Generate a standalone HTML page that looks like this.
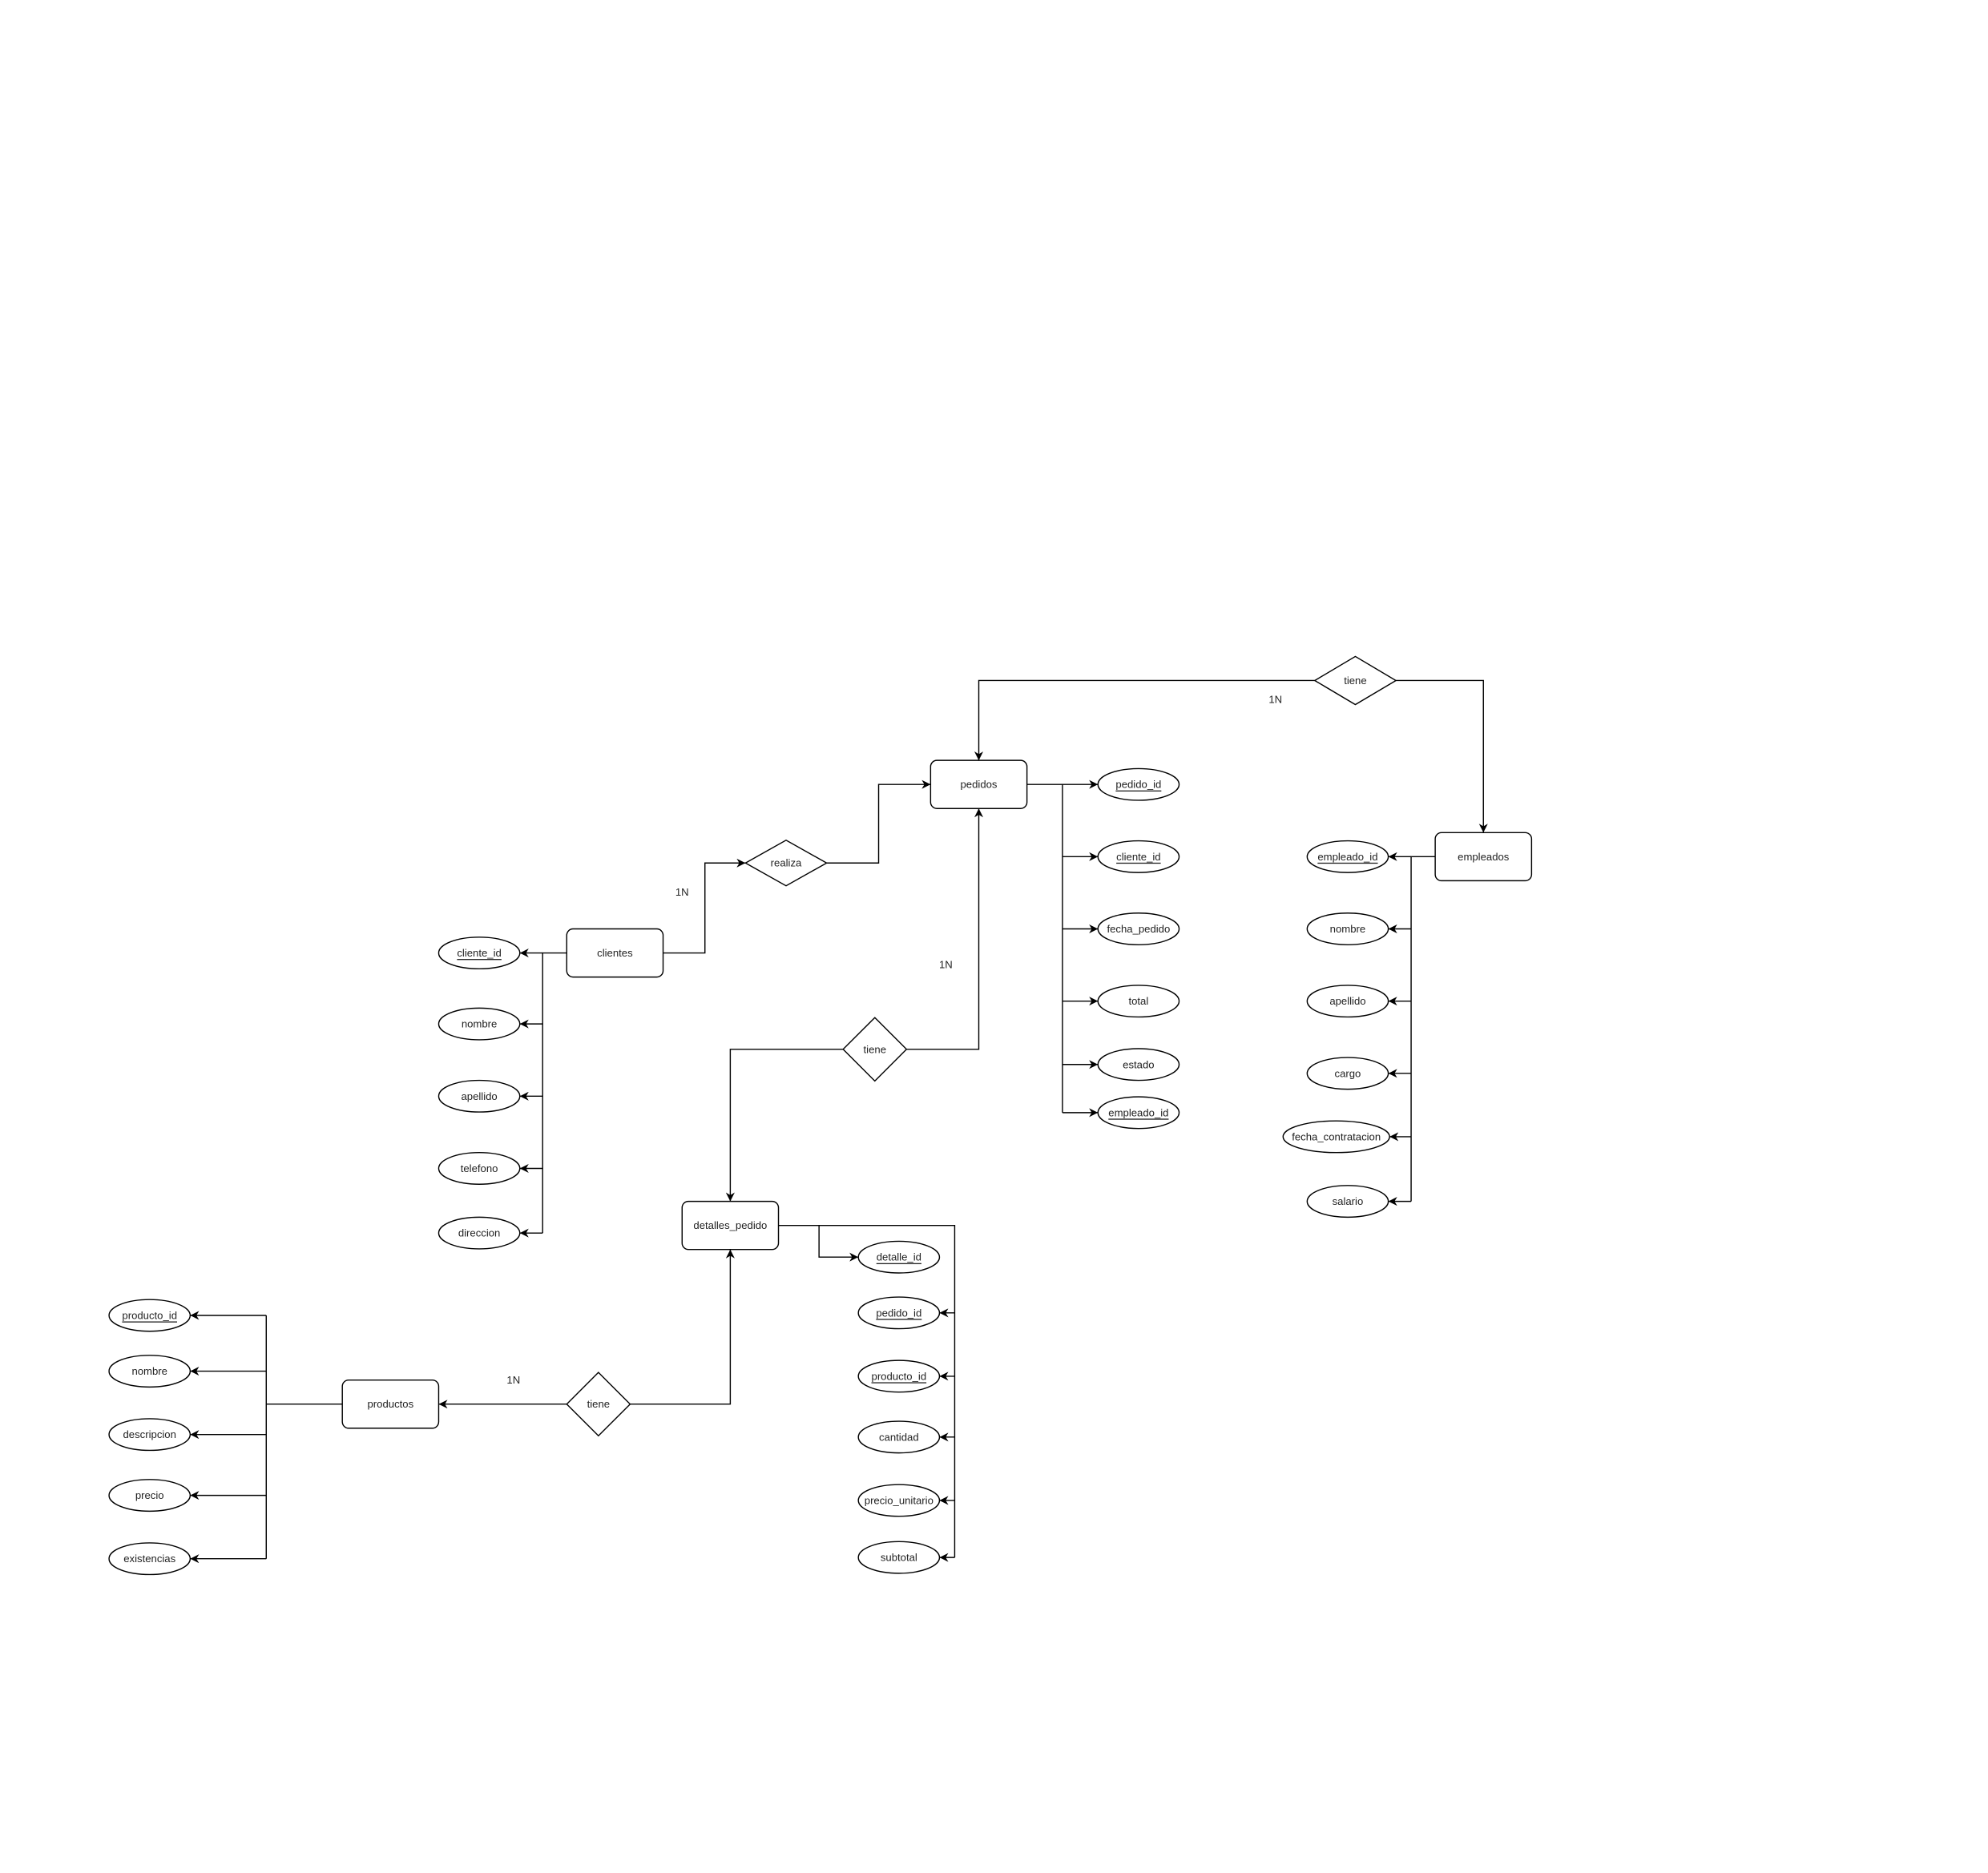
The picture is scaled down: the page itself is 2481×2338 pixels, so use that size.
<!DOCTYPE html>
<html><head><meta charset="utf-8"><style>
html,body{margin:0;padding:0;background:#fff;}
svg{display:block;}
text{font-family:"Liberation Sans",sans-serif;font-size:8.3px;fill:#222;text-anchor:middle;dominant-baseline:central;}
.u{text-decoration:underline;}
</style></head><body>
<svg width="2481" height="2338" viewBox="0 0 1568 1478" preserveAspectRatio="none" xmlns="http://www.w3.org/2000/svg">
<defs>
<marker id="a" viewBox="0 0 10 10" refX="10" refY="5" markerWidth="7" markerHeight="7" orient="auto" markerUnits="userSpaceOnUse">
<path d="M0,0 L10,5 L0,10 L3,5 z" fill="#000"/>
</marker>
</defs>
<g fill="none" stroke="#000" stroke-width="0.9">
<polyline points="1037,537 772,537 772,600" marker-end="url(#a)"/>
<polyline points="1101,537 1170,537 1170,657" marker-end="url(#a)"/>
<polygon points="1037,537 1069,518 1101,537 1069,556" fill="#fff"/>
<polyline points="523,752 556,752 556,681 588,681" marker-end="url(#a)"/>
<polyline points="652,681 693,681 693,619 734,619" marker-end="url(#a)"/>
<polygon points="588,681 620,663 652,681 620,699" fill="#fff"/>
<polyline points="715,828 772,828 772,638" marker-end="url(#a)"/>
<polyline points="665,828 576,828 576,948" marker-end="url(#a)"/>
<polygon points="665,828 690,803 715,828 690,853" fill="#fff"/>
<polyline points="447,1108 346,1108" marker-end="url(#a)"/>
<polyline points="497,1108 576,1108 576,986" marker-end="url(#a)"/>
<polygon points="447,1108 472,1083 497,1108 472,1133" fill="#fff"/>

<polyline points="810,619 838,619 838,878"/>
<line x1="838" y1="619" x2="866" y2="619" marker-end="url(#a)"/>
<line x1="838" y1="676" x2="866" y2="676" marker-end="url(#a)"/>
<line x1="838" y1="733" x2="866" y2="733" marker-end="url(#a)"/>
<line x1="838" y1="790" x2="866" y2="790" marker-end="url(#a)"/>
<line x1="838" y1="840" x2="866" y2="840" marker-end="url(#a)"/>
<line x1="838" y1="878" x2="866" y2="878" marker-end="url(#a)"/>
<polyline points="1132,676 1113,676 1113,948"/>
<line x1="1113" y1="676" x2="1095" y2="676" marker-end="url(#a)"/>
<line x1="1113" y1="733" x2="1095" y2="733" marker-end="url(#a)"/>
<line x1="1113" y1="790" x2="1095" y2="790" marker-end="url(#a)"/>
<line x1="1113" y1="847" x2="1095" y2="847" marker-end="url(#a)"/>
<line x1="1113" y1="897" x2="1096" y2="897" marker-end="url(#a)"/>
<line x1="1113" y1="948" x2="1095" y2="948" marker-end="url(#a)"/>
<polyline points="447,752 428,752 428,973"/>
<line x1="428" y1="752" x2="410" y2="752" marker-end="url(#a)"/>
<line x1="428" y1="808" x2="410" y2="808" marker-end="url(#a)"/>
<line x1="428" y1="865" x2="410" y2="865" marker-end="url(#a)"/>
<line x1="428" y1="922" x2="410" y2="922" marker-end="url(#a)"/>
<line x1="428" y1="973" x2="410" y2="973" marker-end="url(#a)"/>
<polyline points="614,967 753,967 753,1229"/>
<polyline points="646,967 646,992 677,992" marker-end="url(#a)"/>
<line x1="753" y1="1036" x2="741" y2="1036" marker-end="url(#a)"/>
<line x1="753" y1="1086" x2="741" y2="1086" marker-end="url(#a)"/>
<line x1="753" y1="1134" x2="741" y2="1134" marker-end="url(#a)"/>
<line x1="753" y1="1184" x2="741" y2="1184" marker-end="url(#a)"/>
<line x1="753" y1="1229" x2="741" y2="1229" marker-end="url(#a)"/>
<polyline points="270,1108 210,1108"/>
<line x1="210" y1="1038" x2="210" y2="1230"/>
<line x1="210" y1="1038" x2="150" y2="1038" marker-end="url(#a)"/>
<line x1="210" y1="1082" x2="150" y2="1082" marker-end="url(#a)"/>
<line x1="210" y1="1132" x2="150" y2="1132" marker-end="url(#a)"/>
<line x1="210" y1="1180" x2="150" y2="1180" marker-end="url(#a)"/>
<line x1="210" y1="1230" x2="150" y2="1230" marker-end="url(#a)"/>

<rect x="734" y="600" width="76" height="38" rx="5" fill="#fff"/>
<rect x="1132" y="657" width="76" height="38" rx="5" fill="#fff"/>
<rect x="447" y="733" width="76" height="38" rx="5" fill="#fff"/>
<rect x="538" y="948" width="76" height="38" rx="5" fill="#fff"/>
<rect x="270" y="1089" width="76" height="38" rx="5" fill="#fff"/>

<g fill="#fff">
<ellipse cx="898" cy="619" rx="32" ry="12.5"/>
<ellipse cx="898" cy="676" rx="32" ry="12.5"/>
<ellipse cx="898" cy="733" rx="32" ry="12.5"/>
<ellipse cx="898" cy="790" rx="32" ry="12.5"/>
<ellipse cx="898" cy="840" rx="32" ry="12.5"/>
<ellipse cx="898" cy="878" rx="32" ry="12.5"/>
<ellipse cx="1063" cy="676" rx="32" ry="12.5"/>
<ellipse cx="1063" cy="733" rx="32" ry="12.5"/>
<ellipse cx="1063" cy="790" rx="32" ry="12.5"/>
<ellipse cx="1063" cy="847" rx="32" ry="12.5"/>
<ellipse cx="1054" cy="897" rx="42" ry="12.5"/>
<ellipse cx="1063" cy="948" rx="32" ry="12.5"/>
<ellipse cx="378" cy="752" rx="32" ry="12.5"/>
<ellipse cx="378" cy="808" rx="32" ry="12.5"/>
<ellipse cx="378" cy="865" rx="32" ry="12.5"/>
<ellipse cx="378" cy="922" rx="32" ry="12.5"/>
<ellipse cx="378" cy="973" rx="32" ry="12.5"/>
<ellipse cx="709" cy="992" rx="32" ry="12.5"/>
<ellipse cx="709" cy="1036" rx="32" ry="12.5"/>
<ellipse cx="709" cy="1086" rx="32" ry="12.5"/>
<ellipse cx="709" cy="1134" rx="32" ry="12.5"/>
<ellipse cx="709" cy="1184" rx="32" ry="12.5"/>
<ellipse cx="709" cy="1229" rx="32" ry="12.5"/>
<ellipse cx="118" cy="1038" rx="32" ry="12.5"/>
<ellipse cx="118" cy="1082" rx="32" ry="12.5"/>
<ellipse cx="118" cy="1132" rx="32" ry="12.5"/>
<ellipse cx="118" cy="1180" rx="32" ry="12.5"/>
<ellipse cx="118" cy="1230" rx="32" ry="12.5"/>
</g>
</g>

<text x="1069" y="537">tiene</text>
<text x="620" y="681">realiza</text>
<text x="690" y="828">tiene</text>
<text x="472" y="1108">tiene</text>
<text x="1006" y="552">1N</text>
<text x="538" y="704">1N</text>
<text x="746" y="761">1N</text>
<text x="405" y="1089">1N</text>

<text x="772" y="619">pedidos</text>
<text x="1170" y="676">empleados</text>
<text x="485" y="752">clientes</text>
<text x="576" y="967">detalles_pedido</text>
<text x="308" y="1108">productos</text>

<text x="898" y="619" class="u">pedido_id</text>
<text x="898" y="676" class="u">cliente_id</text>
<text x="898" y="733">fecha_pedido</text>
<text x="898" y="790">total</text>
<text x="898" y="840">estado</text>
<text x="898" y="878" class="u">empleado_id</text>

<text x="1063" y="676" class="u">empleado_id</text>
<text x="1063" y="733">nombre</text>
<text x="1063" y="790">apellido</text>
<text x="1063" y="847">cargo</text>
<text x="1054" y="897">fecha_contratacion</text>
<text x="1063" y="948">salario</text>

<text x="378" y="752" class="u">cliente_id</text>
<text x="378" y="808">nombre</text>
<text x="378" y="865">apellido</text>
<text x="378" y="922">telefono</text>
<text x="378" y="973">direccion</text>

<text x="709" y="992" class="u">detalle_id</text>
<text x="709" y="1036" class="u">pedido_id</text>
<text x="709" y="1086" class="u">producto_id</text>
<text x="709" y="1134">cantidad</text>
<text x="709" y="1184">precio_unitario</text>
<text x="709" y="1229">subtotal</text>

<text x="118" y="1038" class="u">producto_id</text>
<text x="118" y="1082">nombre</text>
<text x="118" y="1132">descripcion</text>
<text x="118" y="1180">precio</text>
<text x="118" y="1230">existencias</text>
</svg>
</body></html>
